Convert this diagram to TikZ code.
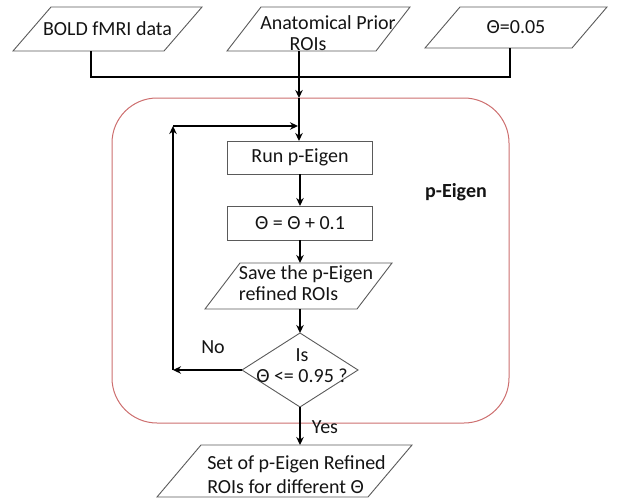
\documentclass[tikz,border=0pt]{standalone}
\usepackage{fontspec}
\setmainfont{Carlito}
\usetikzlibrary{arrows.meta,calc}
\definecolor{boxgray}{RGB}{90,90,90}
\definecolor{redline}{RGB}{205,110,110}
\definecolor{txtc}{RGB}{20,20,20}
\newcommand\drawpara[2]{\draw[outl] ([xshift=#2]#1.north west) -- (#1.north east) -- ([xshift=-#2]#1.south east) -- (#1.south west) -- cycle;}
\begin{document}
\begin{tikzpicture}[x=1pt,y=-1pt,
  shp/.style={inner sep=0pt,outer sep=0pt,text=txtc,font=\fontsize{20}{21}\selectfont},
  outl/.style={draw=boxgray,line width=0.9pt},
  conn/.style={line width=2pt},
  arr/.style={conn,-{Stealth[length=8pt,width=7.5pt]}},
  lbl/.style={text=txtc,font=\fontsize{20}{21}\selectfont,inner sep=0pt}]
\useasboundingbox (0,0) rectangle (622,501);

% p-Eigen container
\node[draw=redline, line width=1pt, rounded corners=45pt, minimum width=397pt, minimum height=325pt, inner sep=0pt] (peig) at (310.5,260.5) {};
\node[lbl, font=\fontsize{20}{21}\selectfont\bfseries] (peiglbl) at (456,192) {p-Eigen};

% inputs
\node[shp, minimum width=189pt, minimum height=44pt] (bold) at (107.5,29) {BOLD fMRI data};
\drawpara{bold}{38pt}
\node[shp, minimum width=183pt, minimum height=44pt] (anat) at (318.5,29) {};
\drawpara{anat}{34pt}
\node[lbl, align=center] (anattxt) at (328,33) {Anatomical Prior\\ROIs\hbox to 40pt{}};
\node[shp, minimum width=182pt, minimum height=41pt] (theta) at (516,27.5) {Θ=0.05};
\drawpara{theta}{35pt}

% process
\node[shp, outl, minimum width=145pt, minimum height=33pt] (run) at (300,157.5) {Run p-Eigen};
\node[shp, outl, minimum width=145pt, minimum height=34pt] (inc) at (300,223) {Θ = Θ + 0.1};
\node[shp, minimum width=187pt, minimum height=46pt] (save) at (298.5,286) {};
\drawpara{save}{35pt}
\node[lbl, align=left] (savetxt) at (306,283) {Save the p-Eigen\\refined ROIs};
\node[shp, minimum width=116pt, minimum height=74pt] (dia) at (300,370) {};
\draw[outl] (dia.north) -- (dia.east) -- (dia.south) -- (dia.west) -- cycle;
\node[lbl, align=center] (diatxt) at (302,366) {Is\\Θ <= 0.95 ?};
\node[shp, minimum width=255pt, minimum height=52pt] (fin) at (284.5,471) {};
\drawpara{fin}{44pt}
\node[lbl, align=left] (fintxt) at (296.5,475) {Set of p-Eigen Refined\\[3pt]ROIs for different Θ};

% connectors
\coordinate (bx) at (91,0);
\coordinate (tx) at (510,0);
\coordinate (j) at (299,77);
\coordinate (top) at (299,98);
\coordinate (lq) at (173,126);
\coordinate (lx) at (173,0);
\draw[conn] (bold.south -| bx) -- (bx |- j) -- (tx |- j) -- (theta.south -| tx);
\draw[arr] (anat.south -| j) -- (top);
\draw[arr] (top) -- (top |- run.north);
\draw[arr] (run.south) -- (inc.north);
\draw[arr] (inc.south) -- (inc.south |- save.north);
\draw[arr] (save.south -| dia.north) -- (dia.north);
\draw[arr] (dia.south) -- (dia.south |- fin.north);
\draw[arr] (dia.west) -- (lx |- dia.west) coordinate (lp);
\draw[arr] (lp) -- (lq);
\draw[arr, shorten >=1pt] (lq) -- (lq -| top);

\node[lbl] (no) at (213,347) {No};
\node[lbl] (yes) at (325,427) {Yes};
\end{tikzpicture}
\end{document}
